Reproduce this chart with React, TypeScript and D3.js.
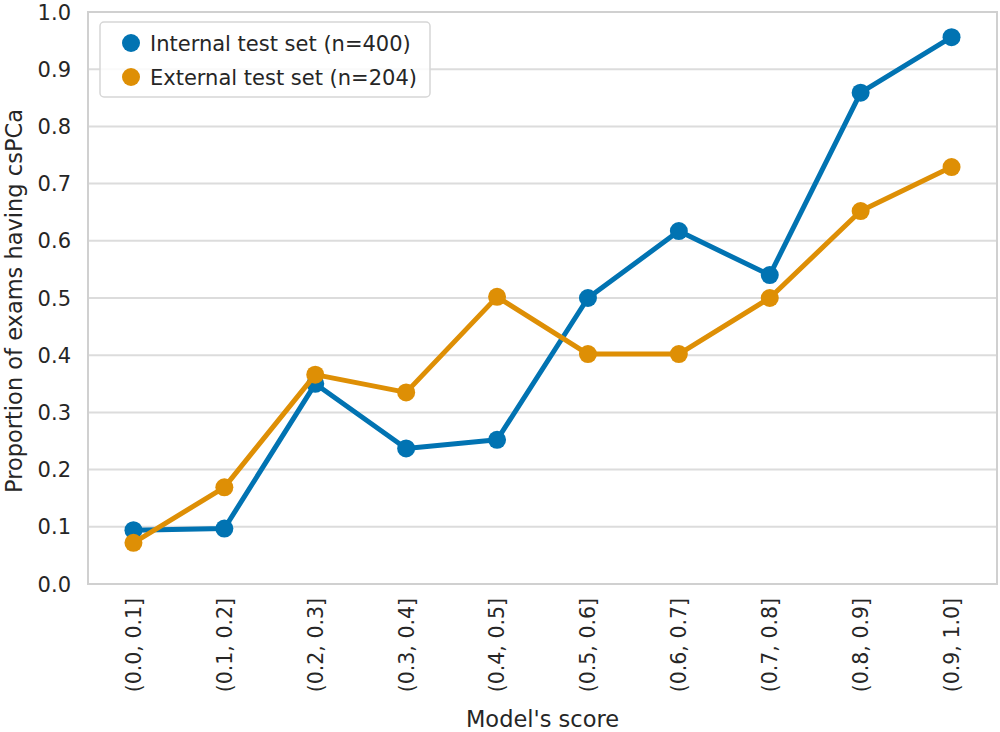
import React from "react";
import * as d3 from "d3";

const categories = ["(0.0, 0.1]", "(0.1, 0.2]", "(0.2, 0.3]", "(0.3, 0.4]", "(0.4, 0.5]", "(0.5, 0.6]", "(0.6, 0.7]", "(0.7, 0.8]", "(0.8, 0.9]", "(0.9, 1.0]"];
const internalValues = [0.094, 0.097, 0.35, 0.237, 0.252, 0.5, 0.617, 0.54, 0.859, 0.956];
const externalValues = [0.072, 0.169, 0.366, 0.335, 0.502, 0.402, 0.402, 0.5, 0.652, 0.729];
const yTicks = [0, 0.1, 0.2, 0.3, 0.4, 0.5, 0.6, 0.7, 0.8, 0.9, 1.0];
const seriesNames = ["Internal test set (n=400)", "External test set (n=204)"];
const seriesColors = ["#0173b2", "#de8f05"];

const W = 1000, H = 732;
const left = 88, right = 997, top = 12, bottom = 584;
const FONT = "DejaVu Sans, sans-serif";
const TEXT = "#262626";

export default function App() {
  const x = d3.scaleLinear().domain([-0.5, categories.length - 0.5]).range([left, right]);
  const y = d3.scaleLinear().domain([0, 1]).range([bottom, top]);
  const line = d3.line<number>().x((_, i) => x(i)).y((d) => y(d));
  const series = [internalValues, externalValues];
  return (
    <svg width={W} height={H} style={{ position: "absolute", left: 0, top: 0, background: "#fff" }} fontFamily={FONT}>
      <rect x={0} y={0} width={W} height={H} fill="#fff" />
      {yTicks.map((t) => (
        <g key={t}>
          <line x1={left} x2={right} y1={y(t)} y2={y(t)} stroke="#dcdcdc" strokeWidth={2} />
          <text x={71} y={y(t)} dy="0.36em" textAnchor="end" fontSize={21} fill={TEXT}>{t.toFixed(1)}</text>
        </g>
      ))}
      <rect x={left} y={top} width={right - left} height={bottom - top} fill="none" stroke="#d0d0d0" strokeWidth={2} />
      {categories.map((c, i) => (
        <text key={c} transform={`translate(${x(i)},${598}) rotate(-90)`} textAnchor="end" dy="0.36em" fontSize={20.5} fill={TEXT}>{c}</text>
      ))}
      <text x={(left + right) / 2} y={727} textAnchor="middle" fontSize={22.5} fill={TEXT}>Model's score</text>
      <text transform={`translate(${14},${301}) rotate(-90)`} textAnchor="middle" dy="0.36em" fontSize={22.5} fill={TEXT}>Proportion of exams having csPCa</text>
      {series.map((s, k) => (
        <g key={k}>
          <path d={line(s) || ""} fill="none" stroke={seriesColors[k]} strokeWidth={5} strokeLinejoin="round" />
          {s.map((v, i) => (
            <circle key={i} cx={x(i)} cy={y(v)} r={9} fill={seriesColors[k]} />
          ))}
        </g>
      ))}
      <rect x={100} y={22} width={330} height={75} rx={4} fill="#fff" fillOpacity={0.85} stroke="#d6d6d6" strokeWidth={1.5} />
      {seriesNames.map((n, k) => (
        <g key={n}>
          <circle cx={131} cy={43 + k * 34} r={9} fill={seriesColors[k]} />
          <text x={150} y={43 + k * 34} dy="0.36em" fontSize={21} fill={TEXT}>{n}</text>
        </g>
      ))}
    </svg>
  );
}
